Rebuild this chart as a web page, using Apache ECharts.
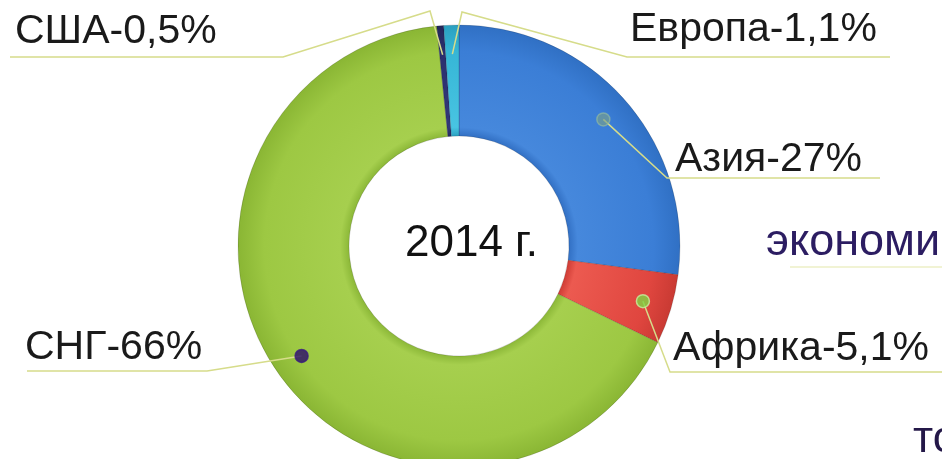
<!DOCTYPE html>
<html>
<head>
<meta charset="utf-8">
<script src="https://cdn.jsdelivr.net/npm/echarts@6/dist/echarts.min.js"></script>
<style>
html,body{margin:0;padding:0;background:#fff;}
#chart{width:942px;height:459px;}
</style>
</head>
<body>
<div id="chart"></div>
<script>
// ---- data ----
const categories = ['Азия', 'Африка', 'СНГ', 'США', 'Европа'];
const shares = [27, 5.1, 66, 0.5, 1.1];
const centerTitle = '2014 г.';
const sideTexts = ['экономи', 'тс'];

// ---- styles ----
const CX = 459, CY = 246, R_OUT = 221, R_IN = 110, R_DOT = 192;
function ring(dark, light, base, outer) {
  return {
    type: 'radial', x: CX, y: CY, r: R_OUT, global: true,
    colorStops: [
      { offset: 0, color: dark },
      { offset: R_IN / R_OUT, color: dark },
      { offset: R_IN / R_OUT + 0.04, color: light },
      { offset: 0.88, color: base },
      { offset: 1, color: outer }
    ]
  };
}
const sliceColors = [
  ring('#3270c4', '#4688dc', '#3b7ed6', '#3070c4'),
  ring('#cf3c35', '#ec5a50', '#e0463f', '#c93a33'),
  ring('#8cb838', '#a6cf4e', '#9dc843', '#8ab634'),
  ring('#262a62', '#323878', '#2b2f6e', '#23275a'),
  ring('#2aa2c2', '#48c4e2', '#36b6d6', '#2aa0c0')
];
const dotColors = ['rgba(120,160,140,0.8)', '#7ed644', '#2a0a6a', 'rgba(0,0,0,0)', 'rgba(0,0,0,0)'];
const dotBorders = ['rgba(150,190,160,0.8)', '#c8f0a0', '#3a1a80', 'rgba(0,0,0,0)', 'rgba(0,0,0,0)'];
const labelPlace = [
  { x: 675, y: 160, line: [[667, 178], [880, 178]] },
  { x: 673, y: 349, line: [[670, 372], [942, 372]] },
  { x: 25, y: 348, line: [[207, 371], [27, 371]] },
  { x: 15, y: 32, line: [[430, 11], [283, 57], [10, 57]] },
  { x: 630, y: 30, line: [[462, 12], [627, 57], [890, 57]] }
];

const total = shares.reduce((a, b) => a + b, 0);
const mids = [];
let acc = 0;
shares.forEach(v => { mids.push(acc + v / 2); acc += v; });

const fmt = v => String(v).replace('.', ',');

const chart = echarts.init(document.getElementById('chart'), null, { renderer: 'canvas' });
const option = {
  backgroundColor: '#ffffff',
  animation: false,
  polar: { center: [CX, CY], radius: [0, R_OUT] },
  radiusAxis: { type: 'value', min: 0, max: R_OUT, show: false },
  angleAxis: { type: 'value', min: 0, max: total, startAngle: 90, clockwise: true, show: false },
  graphic: [
    { type: 'text', left: 405, top: 222, style: { text: centerTitle, font: '44px "Liberation Sans", Arial', fill: '#111' } },
    { type: 'text', left: 766, top: 220, style: { text: sideTexts[0], font: '45px "Liberation Sans", Arial', fill: '#2c1d62' } },
    { type: 'line', shape: { x1: 790, y1: 267, x2: 942, y2: 267 }, style: { stroke: '#ecefc6', lineWidth: 1.5 } },
    { type: 'text', left: 913, top: 418, style: { text: sideTexts[1], font: '44px "Liberation Sans", Arial', fill: '#241848' } }
  ],
  series: [
    {
      type: 'pie',
      center: [CX, CY],
      radius: [R_IN, R_OUT],
      startAngle: 90,
      clockwise: true,
      silent: true,
      label: { show: false },
      labelLine: { show: false },
      itemStyle: { borderColor: 'rgba(0,0,0,0.15)', borderWidth: 1 },
      data: categories.map((c, i) => ({ name: c, value: shares[i], itemStyle: { color: sliceColors[i] } }))
    },
    {
      type: 'pie',
      center: [CX, CY],
      radius: [0, R_DOT],
      startAngle: 90,
      clockwise: true,
      silent: true,
      z: 3,
      avoidLabelOverlap: false,
      itemStyle: { color: 'rgba(0,0,0,0)' },
      label: {
        show: true,
        position: 'outside',
        fontSize: 41,
        fontFamily: '"Liberation Sans", Arial',
        color: '#1a1a1a',
        formatter: p => p.name + '-' + fmt(p.value) + '%'
      },
      labelLine: { show: true, length: 10, length2: 10, smooth: false, lineStyle: { color: '#d6dc8a', width: 1.5 } },
      labelLayout: function (params) {
        const i = params.dataIndex;
        const L = labelPlace[i];
        let start = params.labelLinePoints && params.labelLinePoints[0];
        if (!start) {
          const a = (90 - mids[i] / total * 360) * Math.PI / 180;
          start = [CX + R_DOT * Math.cos(a), CY - R_DOT * Math.sin(a)];
        }
        return { x: L.x, y: L.y, align: 'left', verticalAlign: 'middle', labelLinePoints: [start].concat(L.line) };
      },
      data: categories.map((c, i) => ({ name: c, value: shares[i] }))
    },
    {
      type: 'scatter',
      coordinateSystem: 'polar',
      z: 5,
      silent: true,
      symbolSize: 13,
      data: mids.map((m, i) => ({ value: [R_DOT, m], itemStyle: { color: dotColors[i], borderColor: dotBorders[i], borderWidth: 1.5 } }))
    }
  ]
};
chart.setOption(option);
</script>
</body>
</html>
